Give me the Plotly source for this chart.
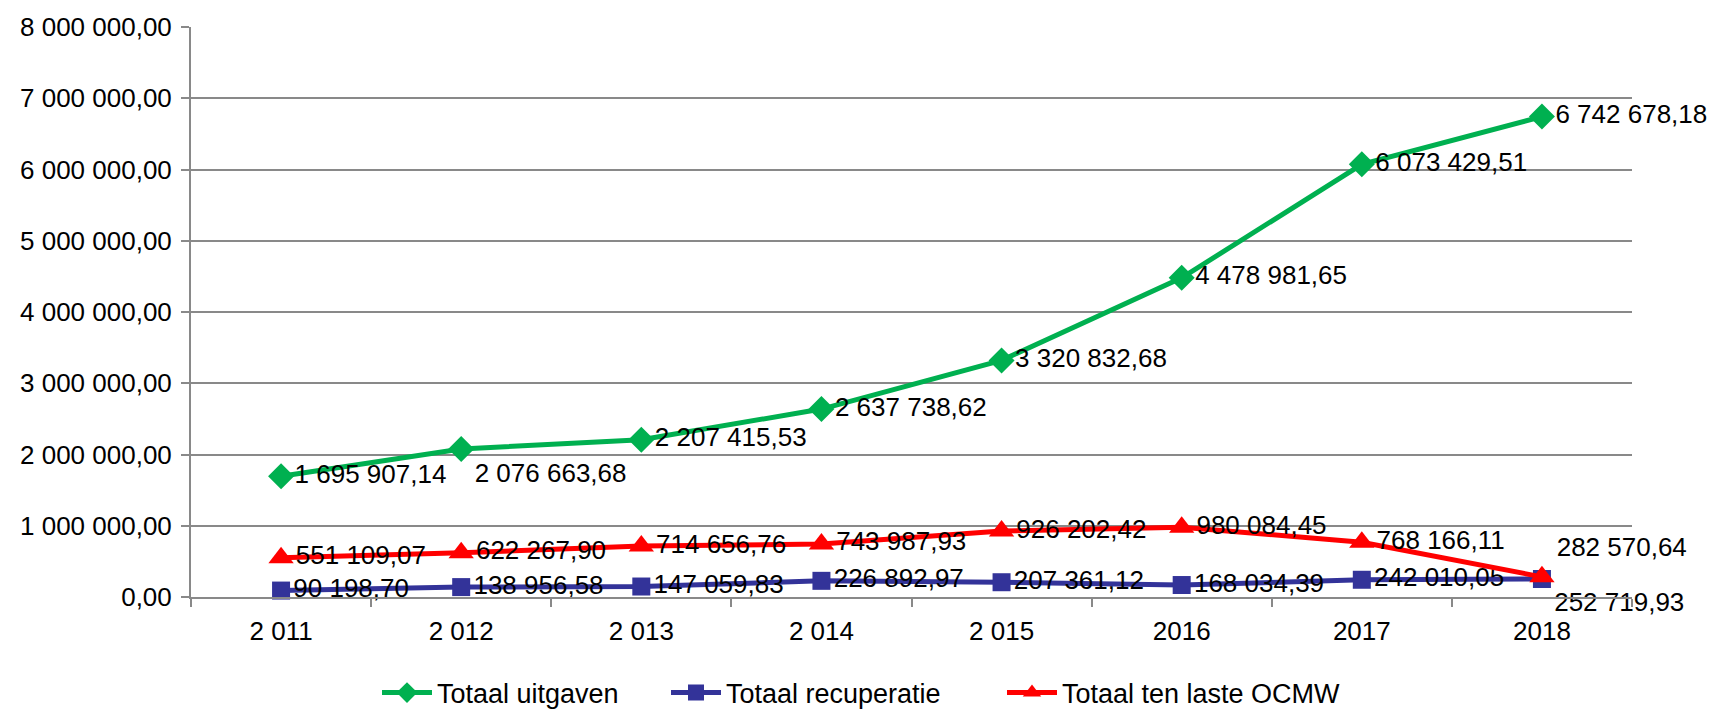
import plotly.graph_objects as go

# Jaren (categorie-as)
jaren = ["2 011", "2 012", "2 013", "2 014", "2 015", "2016", "2017", "2018"]

# Reeksen
totaal_uitgaven = [1695907.14, 2076663.68, 2207415.53, 2637738.62,
                   3320832.68, 4478981.65, 6073429.51, 6742678.18]
totaal_recuperatie = [90198.70, 138956.58, 147059.83, 226892.97,
                      207361.12, 168034.39, 242010.05, 252719.93]
totaal_ten_laste = [551109.07, 622267.90, 714656.76, 743987.93,
                    926202.42, 980084.45, 768166.11, 282570.64]

FONT = "Liberation Sans"
GRID = "#898989"
W, H = 1720, 710
OFF = 8  # body-marge van de pagina

fig = go.Figure()

pos_groen = ["middle right"] * 8
pos_groen[1] = "bottom right"
pos_blauw = ["middle right"] * 7 + ["bottom right"]
pos_rood = ["middle right"] * 7 + ["top right"]

fig.add_trace(go.Scatter(
    x=jaren, y=totaal_uitgaven, name="Totaal uitgaven",
    mode="lines+markers+text", legend="legend",
    line=dict(color="#00B050", width=5),
    marker=dict(symbol="diamond", size=20, color="#00B050"),
    texttemplate="%{y:,.2f}", textposition=pos_groen,
    textfont=dict(size=26, color="black"), cliponaxis=False,
))
fig.add_trace(go.Scatter(
    x=jaren, y=totaal_recuperatie, name="Totaal recuperatie",
    mode="lines+markers+text", legend="legend2",
    line=dict(color="#333399", width=5),
    marker=dict(symbol="square", size=18, color="#333399"),
    texttemplate="%{y:,.2f}", textposition=pos_blauw,
    textfont=dict(size=26, color="black"), cliponaxis=False,
))
fig.add_trace(go.Scatter(
    x=jaren, y=totaal_ten_laste, name="Totaal ten laste OCMW",
    mode="lines+markers+text", legend="legend3",
    line=dict(color="#FF0000", width=5),
    marker=dict(symbol="triangle-up", size=22, color="#FF0000"),
    texttemplate="%{y:,.2f}", textposition=pos_rood,
    textfont=dict(size=26, color="black"), cliponaxis=False,
))


def legende(x_px):
    return dict(orientation="h", xref="container", yref="container",
                x=(x_px - OFF) / W, xanchor="left",
                y=1 - (693 - OFF) / H, yanchor="middle",
                font=dict(size=27), itemwidth=50,
                bgcolor="rgba(0,0,0,0)")


fig.update_layout(
    width=W, height=H,
    separators=", ",
    font=dict(family=FONT, size=26, color="black"),
    plot_bgcolor="white", paper_bgcolor="white",
    margin=dict(l=191 - OFF, r=W - 1632 + OFF, t=27 - OFF, b=H - 597 + OFF),
    showlegend=True,
    legend=legende(377),
    legend2=legende(666),
    legend3=legende(1002),
    xaxis=dict(
        type="category", showgrid=False, automargin=False,
        showline=True, linecolor=GRID, linewidth=2,
        ticks="outside", tickson="boundaries", ticklen=8,
        tickcolor=GRID, tickwidth=2, ticklabelstandoff=10,
        tickfont=dict(size=26),
        range=[-0.5, 7.5],
    ),
    yaxis=dict(
        range=[0, 8000000], dtick=1000000, tickformat=",.2f",
        showgrid=True, gridcolor=GRID, gridwidth=2, automargin=False,
        showline=True, linecolor=GRID, linewidth=2,
        ticks="outside", ticklen=8, tickcolor=GRID, tickwidth=2,
        ticklabelstandoff=4,
        tickfont=dict(size=26), zeroline=False,
    ),
)

fig.write_html("out.html")
